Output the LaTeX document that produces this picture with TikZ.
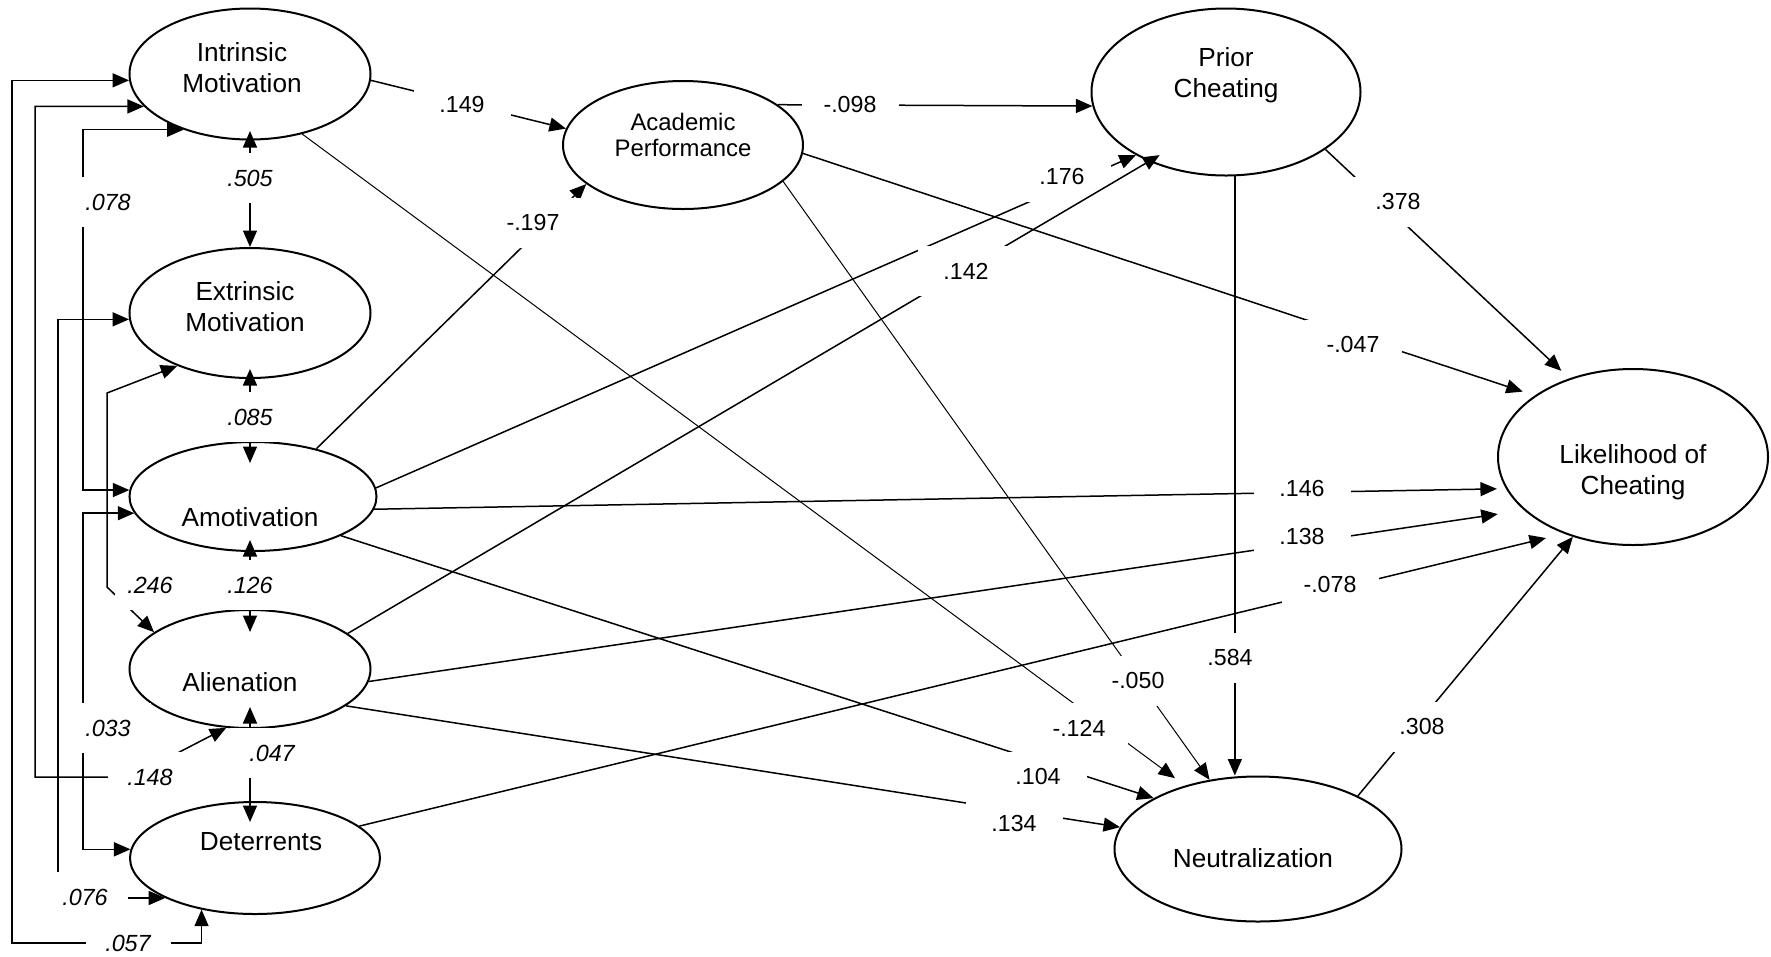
\documentclass[tikz,border=0pt]{standalone}
\usepackage{fontspec}
\setmainfont{Liberation Sans}
\usetikzlibrary{shapes.geometric,arrows.meta}
\newcommand{\varfont}{\fontsize{14.9}{17.6}\selectfont}
\newcommand{\apfont}{\fontsize{13.6}{15.3}\selectfont}
\newcommand{\coeffont}{\fontsize{13.2}{15}\selectfont}
\newcommand{\covfont}{\fontsize{13.3}{15}\selectfont\itshape}

\begin{document}
\begin{tikzpicture}[x=0.2mm, y=-0.2mm, >={Triangle[length=3.3mm, width=2.8mm]},
    var/.style={draw, ellipse, line width=0.4mm, inner sep=0pt},
    txt/.style={align=center, inner sep=0pt, font=\varfont},
    arr/.style={->, line width=0.3mm},
    dbl/.style={<->, line width=0.3mm},
    thinline/.style={line width=0.2mm},
    num/.style={fill=white, inner sep=0pt, minimum width=19.4mm, minimum height=10mm, font=\coeffont},
    cov/.style={fill=white, inner sep=0pt, minimum width=17mm, minimum height=10mm, font=\covfont}]
\useasboundingbox (0,0) rectangle (1771,956);

% latent variables
\node[var, minimum width=48.2mm, minimum height=26.2mm] (im) at (250,74) {};
\node[txt] (im-t) at (242,68) {Intrinsic\\Motivation};
\node[var, minimum width=48.2mm, minimum height=26mm] (em) at (250,313) {};
\node[txt] (em-t) at (245,307) {Extrinsic\\Motivation};
\node[var, minimum width=49.4mm, minimum height=21.8mm] (am) at (253,496.5) {};
\node[txt] (am-t) at (250,517) {Amotivation};
\node[var, minimum width=48.2mm, minimum height=23.6mm] (al) at (250,669) {};
\node[txt] (al-t) at (240,682) {Alienation};
\node[var, minimum width=50mm, minimum height=22.4mm] (de) at (255,858) {};
\node[txt] (de-t) at (261,842) {Deterrents};
\node[var, minimum width=48mm, minimum height=25.6mm] (ap) at (683,145) {};
\node[txt, font=\apfont] (ap-t) at (683,135) {Academic\\Performance};
\node[var, minimum width=53.8mm, minimum height=33.4mm] (pc) at (1226,92) {};
\node[txt] (pc-t) at (1226,75) {Prior\\Cheating};
\node[var, minimum width=54mm, minimum height=35.2mm] (lc) at (1633,457) {};
\node[txt] (lc-t) at (1633,472) {Likelihood of\\Cheating};
\node[var, minimum width=57.4mm, minimum height=29mm] (ne) at (1258,849) {};
\node[txt] (ne-t) at (1253,858) {Neutralization};

% correlations between the predictors
\draw[dbl, shorten <=-1.9mm] (im.south) -- (em.north) node[cov] (c505) at (250,178) {.505};
\draw[dbl, shorten <=-2mm, shorten >=-4.4mm] (em.south) -- (em.south |- am.north) node[cov] (c085) at (250,417) {.085};
\draw[dbl, shorten <=-2.4mm, shorten >=-4.6mm] (am.south -| al.north) -- (al.north) node[cov] (c126) at (250,585) {.126};
\draw[dbl, shorten <=-4.4mm, shorten >=-4.2mm] (al.south) -- (al.south |- de.north) node[cov] (c047) at (272,753) {.047};
\draw[dbl] (im.220) -| (83,300) |- (am.177) node[cov] (c078) at (108,202) {.078};
\draw[dbl] (am.188) -| (83,700) |- (de.176) node[cov] (c033) at (108,728) {.033};
\draw[dbl] (im.197) -| (35,777) -- (131,777) -- (al.248) node[cov] (c148) at (150,777) {.148};
\draw[dbl] (im.183) -| (12,943) -| (de.224) node[cov] (c057) at (128,943) {.057};
\draw[dbl] (em.183) -| (58,600) |- (de.204) node[cov] (c076) at (85,897) {.076};
\draw[dbl] (em.216) -- (107,393) -- (107,587) -- (al.159) node[cov, minimum width=14mm] (c246) at (150,585) {.246};

% paths
\draw[arr] (im.-3) -- (ap.172) node[num] (c149) at (462,105) {.149};
\draw[arr] (ap.23) -- (pc.186) node[num] (c098) at (850,105) {-.098};
\draw[arr] (am.37) -- (ap.202) node[num] (c197) at (533,223) {-.197};
\draw[arr] (am.4) -- (pc.215) node[num] (c176) at (1062,177) {.176};
\draw[arr, shorten >=-2.5mm] (al.20) -- (pc.222) node[num] (c142) at (966,271) {.142};
\draw[arr, shorten >=2.5mm] (ap.-4) -- (lc.148) node[num] (c047b) at (1353,345) {-.047};
\draw[arr, shorten >=2.2mm] (pc.-30) -- (lc.129) node[num] (c378) at (1398,202) {.378};
\draw[arr] (pc.-84) -- (pc.-84 |- ne.north) node[num] (c584) at (1230,658) {.584};
\draw[arr, thinline] (ap.-20) -- (ne.125) node[num] (c050) at (1138,681) {-.050};
\draw[arr, thinline, shorten >=2.5mm] (im.-49) -- (ne.139) node[num] (c124) at (1079,728) {-.124};
\draw[arr] (am.-24) -- (ne.154) node[num] (c104) at (1038,777) {.104};
\draw[arr] (al.-21) -- (ne.171) node[num] (c134) at (1014,824) {.134};
\draw[arr] (ne.28) -- (lc.233) node[num] (c308) at (1422,727) {.308};
\draw[arr, shorten >=1.8mm] (am.-6) -- (lc.194) node[num] (c146) at (1302,489) {.146};
\draw[arr, shorten >=5.3mm] (al.-6) -- (lc.206) node[num] (c138) at (1302,537) {.138};
\draw[arr, shorten >=3.7mm] (de.17) -- (lc.228) node[num] (c078b) at (1330,585) {-.078};
\end{tikzpicture}
\end{document}
